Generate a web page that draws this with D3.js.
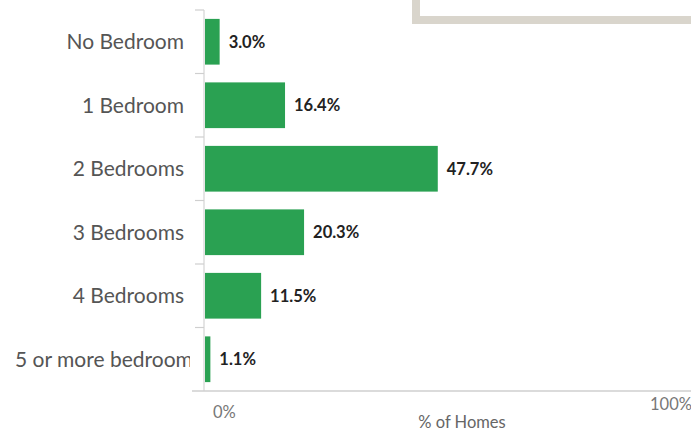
<!DOCTYPE html>
<html>
<head>
<meta charset="utf-8">
<script src="https://cdn.jsdelivr.net/npm/d3@7"></script>
<style>
  html, body { margin: 0; padding: 0; background: #fff; }
  svg { display: block; }
</style>
</head>
<body>
<svg id="chart" width="691" height="442"></svg>
<script>
// Share of homes by number of bedrooms
const categories = ["No Bedroom", "1 Bedroom", "2 Bedrooms", "3 Bedrooms", "4 Bedrooms", "5 or more bedrooms"];
const shares = [3.0, 16.4, 47.7, 20.3, 11.5, 1.1];
const xTickLabels = ["0%", "100%"];
const xTickValues = [0, 100];
const xTitle = "% of Homes";

const W = 691, H = 442;
const svg = d3.select("#chart");

const plot = { left: 205, right: 693, top: 10, bottom: 391 };

const x = d3.scaleLinear().domain([0, 100]).range([plot.left, plot.right]);
const y = d3.scaleBand().domain(categories).range([plot.top, plot.bottom])
  .paddingInner(0.28).paddingOuter(0.14);

const font = "Lato, 'Open Sans', sans-serif";

// Overlapping panel in the top-right corner
svg.append("rect")
  .attr("x", 416).attr("y", -10)
  .attr("width", 300).attr("height", 30)
  .attr("fill", "#fff")
  .attr("stroke", "#d9d5cc").attr("stroke-width", 8);

// Axis lines
svg.append("line")
  .attr("x1", plot.left - 1).attr("x2", plot.left - 1)
  .attr("y1", plot.top).attr("y2", plot.bottom)
  .attr("stroke", "#d4d4d4").attr("stroke-width", 1.2);
svg.append("line")
  .attr("x1", 192).attr("x2", W)
  .attr("y1", plot.bottom).attr("y2", plot.bottom)
  .attr("stroke", "#cfcfcf").attr("stroke-width", 1.6);

// Category separator ticks
const step = y.step();
const boundaries = categories.map((c, i) => plot.top + i * step);
svg.selectAll("line.sep").data(boundaries).join("line")
  .attr("class", "sep")
  .attr("x1", 195).attr("x2", plot.left - 1)
  .attr("y1", d => d).attr("y2", d => d)
  .attr("stroke", "#cfcfcf").attr("stroke-width", 1.2);

// Bars
svg.selectAll("rect.bar").data(categories).join("rect")
  .attr("class", "bar")
  .attr("x", x(0))
  .attr("y", d => y(d))
  .attr("width", (d, i) => x(shares[i]) - x(0))
  .attr("height", y.bandwidth())
  .attr("fill", "#2aa152");

// Value labels
svg.selectAll("text.val").data(categories).join("text")
  .attr("class", "val")
  .attr("x", (d, i) => x(shares[i]) + 9)
  .attr("y", d => y(d) + y.bandwidth() / 2)
  .attr("dy", "0.36em")
  .attr("font-family", font)
  .attr("font-weight", 700)
  .attr("font-size", 16.5)
  .attr("fill", "#222")
  .text((d, i) => shares[i].toFixed(1) + "%");

// Category labels, clipped to the label column
svg.append("clipPath").attr("id", "labelClip")
  .append("rect").attr("x", 0).attr("y", 0).attr("width", 190).attr("height", H);

const labelGroup = svg.append("g").attr("clip-path", "url(#labelClip)");
labelGroup.selectAll("text.cat").data(categories).join("text")
  .attr("class", "cat")
  .attr("x", 184)
  .attr("y", d => y(d) + y.bandwidth() / 2)
  .attr("dy", "0.36em")
  .attr("text-anchor", "end")
  .attr("font-family", font)
  .attr("font-size", 21)
  .attr("fill", "#555")
  .text(d => d)
  .each(function () {
    // Long labels start at the left margin and get cut by the clip
    const w = this.getComputedTextLength();
    if (184 - w < 15) {
      d3.select(this).attr("text-anchor", "start").attr("x", 15);
    }
  });

// X tick labels
svg.append("text")
  .attr("x", x(xTickValues[0]) + 8).attr("y", 418)
  .attr("font-family", font).attr("font-size", 16.5).attr("fill", "#777")
  .text(xTickLabels[0]);
svg.append("text")
  .attr("x", x(xTickValues[1]) - 43).attr("y", 410)
  .attr("font-family", font).attr("font-size", 16.5).attr("fill", "#777")
  .text(xTickLabels[1]);

// X axis title
svg.append("text")
  .attr("x", 462).attr("y", 428)
  .attr("text-anchor", "middle")
  .attr("font-family", font).attr("font-size", 16.5).attr("fill", "#666")
  .text(xTitle);
</script>
</body>
</html>
